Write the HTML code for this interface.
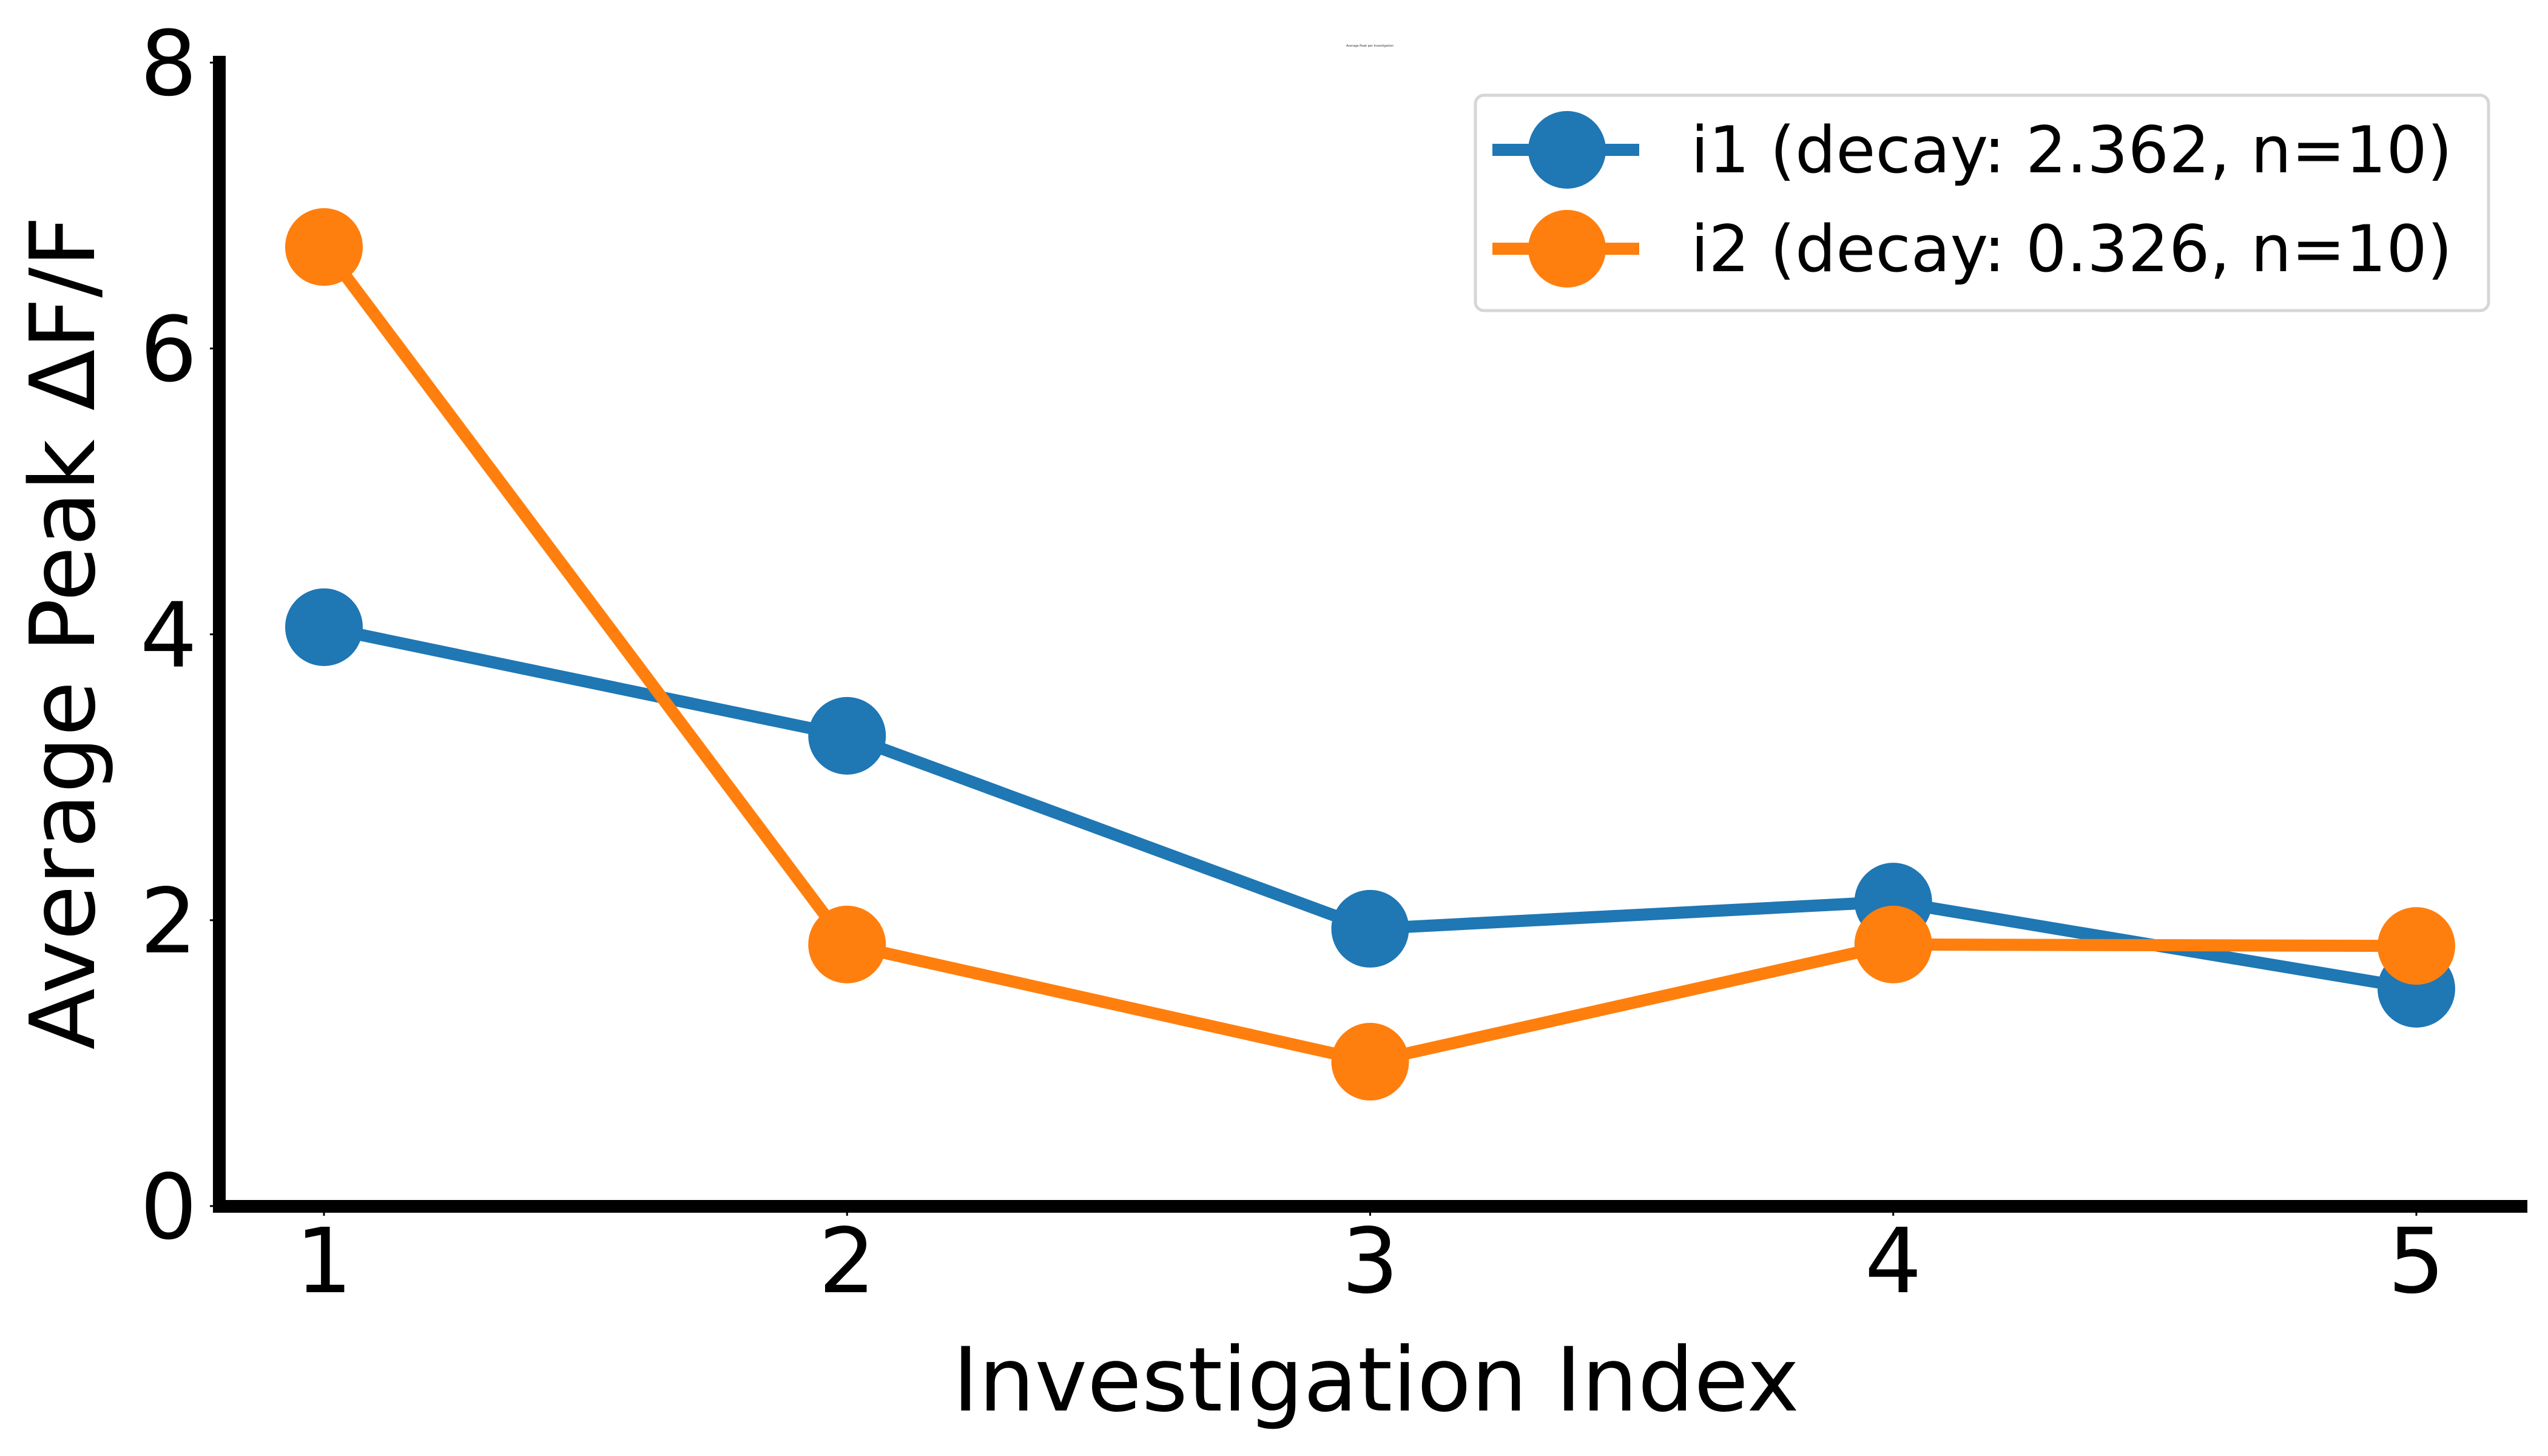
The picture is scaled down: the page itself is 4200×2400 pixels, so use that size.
<!DOCTYPE html>
<html><head><meta charset="utf-8"><style>
html,body{margin:0;padding:0;background:#fff;}
svg{display:block;font-family:"DejaVu Sans","Liberation Sans",sans-serif;}
</style></head><body>
<svg id="chart" width="4200" height="2400" viewBox="0 0 4200 2400" xmlns="http://www.w3.org/2000/svg">
<text x="2258" y="77" font-size="5" fill="#333" text-anchor="middle">Average Peak per Investigation</text>
<g id="marks"></g>
<g id="axes"></g>
<text x="2268" y="2325" font-size="146" text-anchor="middle">Investigation Index</text>
<text transform="translate(155,1043) rotate(-90)" font-size="148" text-anchor="middle">Average Peak ΔF/F</text>
<g>
<rect x="2432" y="157" width="1670" height="355" rx="14" fill="#fff" stroke="#d6d6d6" stroke-width="5"/>
<g>
<line x1="2460" y1="247" x2="2702" y2="247" stroke="#1f77b4" stroke-width="20"/>
<circle cx="2583" cy="247" r="64" fill="#1f77b4"/>
<text x="2787" y="284" font-size="106">i1 (decay: 2.362, n=10)</text>
</g>
<g>
<line x1="2460" y1="410" x2="2702" y2="410" stroke="#ff7f0e" stroke-width="20"/>
<circle cx="2583" cy="410" r="64" fill="#ff7f0e"/>
<text x="2787" y="447" font-size="106">i2 (decay: 0.326, n=10)</text>
</g>
</g>
</svg>
<script>
const categories = [1, 2, 3, 4, 5];
const seriesI1 = [4.05, 3.29, 1.94, 2.13, 1.52];
const seriesI2 = [6.71, 1.83, 1.01, 1.83, 1.82];
const yTicks = [0, 2, 4, 6, 8];
const xTickLabels = ["1", "2", "3", "4", "5"];

const NS = "http://www.w3.org/2000/svg";
const X0 = 534, XSTEP = 862.25;
const Y0 = 1988, YUNIT = 235.6;
function xScale(v){ return X0 + (v - 1) * XSTEP; }
function yScale(v){ return Y0 - v * YUNIT; }
function mk(tag, attrs, parent){
  const e = document.createElementNS(NS, tag);
  for (const k in attrs) e.setAttribute(k, attrs[k]);
  parent.appendChild(e);
  return e;
}
const marks = document.getElementById('marks');
const axes = document.getElementById('axes');

function drawSeries(vals, color, name){
  const pts = vals.map((v,i)=>xScale(categories[i])+','+yScale(v)).join(' ');
  const pl = mk('polyline', {points: pts, fill:'none', stroke: color, 'stroke-width': 20, 'stroke-linejoin':'round'}, marks);
  
  
  vals.forEach((v,i)=>{
    const c = mk('circle', {cx: xScale(categories[i]), cy: yScale(v), r: 64, fill: color}, marks);
    
    
  });
}
drawSeries(seriesI1, '#1f77b4', 'series-i1');
drawSeries(seriesI2, '#ff7f0e', 'series-i2');

const ys = mk('rect', {x: 351, y: 92, width: 21, height: 1907, fill: '#000'}, axes);


const xs = mk('rect', {x: 351, y: 1978, width: 3815, height: 21, fill: '#000'}, axes);



yTicks.forEach(t=>{
  const y = yScale(t);
  const tk = mk('line', {x1: 346, x2: 352, y1: y, y2: y, stroke: '#000', 'stroke-width': 3}, axes);
  
  
  const lb = mk('text', {x: 325, y: y + 53, 'font-size': 148, 'text-anchor': 'end'}, axes);
  lb.textContent = String(t);
  
  
});
categories.forEach((c,i)=>{
  const x = xScale(c);
  const tk = mk('line', {x1: x, x2: x, y1: 1998, y2: 2004, stroke: '#000', 'stroke-width': 3}, axes);
  
  
  const lb = mk('text', {x: x, y: 2130, 'font-size': 148, 'text-anchor': 'middle'}, axes);
  lb.textContent = xTickLabels[i];
  
  
});
</script>
</body></html>
